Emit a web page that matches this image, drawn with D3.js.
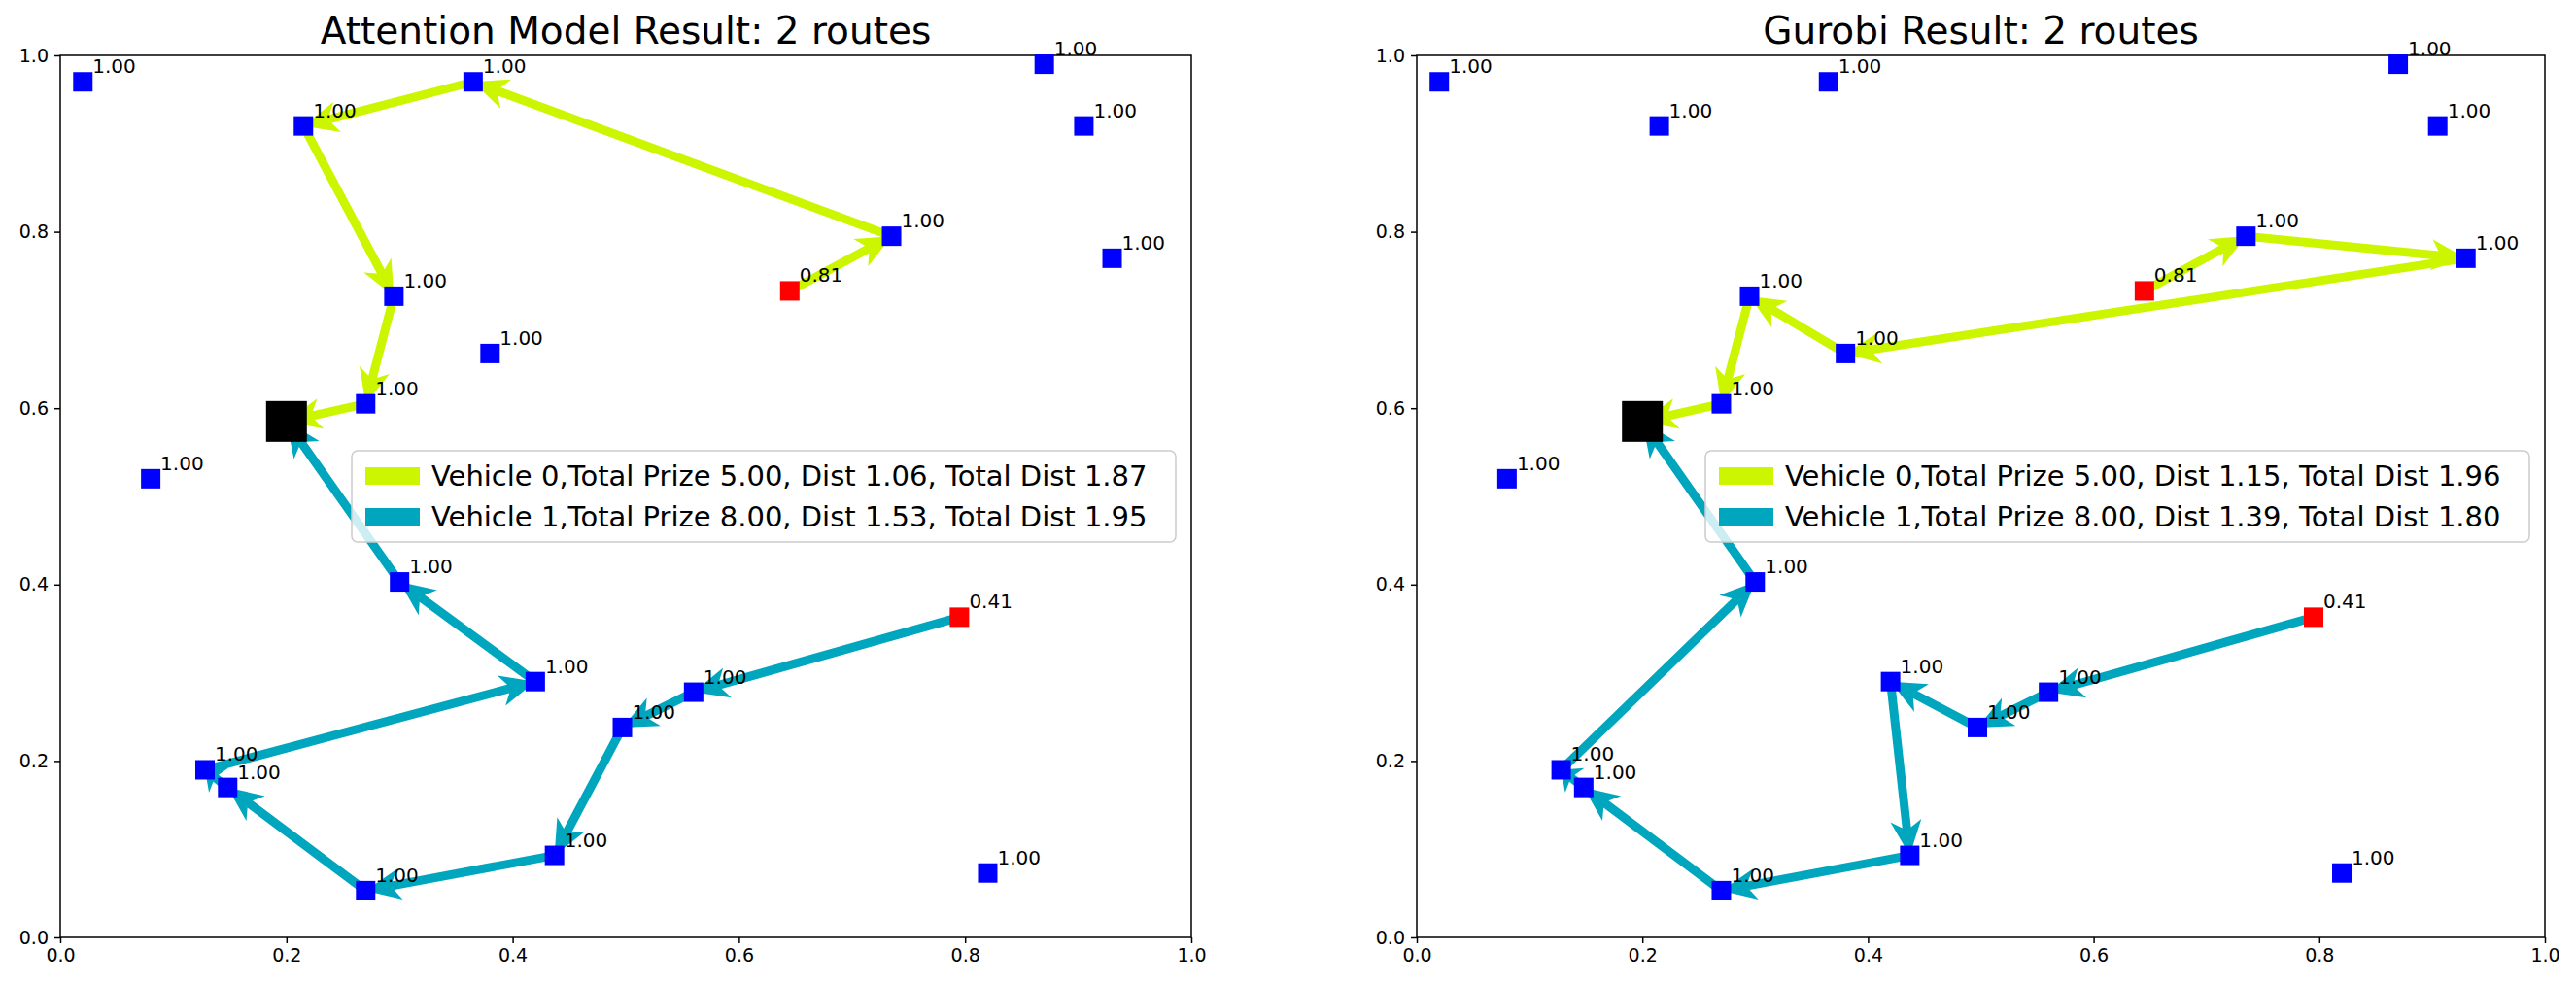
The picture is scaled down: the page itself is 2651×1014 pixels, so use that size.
<!DOCTYPE html>
<html><head><meta charset="utf-8">
<script src="https://cdn.jsdelivr.net/npm/d3@7"></script>
<style>body{margin:0;background:#fff}text{font-family:"DejaVu Sans",sans-serif}</style>
</head><body><svg id="c" width="2651" height="1014"></svg>
<script>
// node positions (shared by both panels)
const nodes = [
  {id:"A", x:0.02, y:0.97, p:1.00}, {id:"B", x:0.215, y:0.92, p:1.00},
  {id:"C", x:0.365, y:0.97, p:1.00}, {id:"D", x:0.87, y:0.99, p:1.00},
  {id:"E", x:0.905, y:0.92, p:1.00}, {id:"F", x:0.93, y:0.77, p:1.00},
  {id:"G", x:0.735, y:0.795, p:1.00}, {id:"H", x:0.645, y:0.733, p:0.81},
  {id:"I", x:0.295, y:0.727, p:1.00}, {id:"J", x:0.38, y:0.662, p:1.00},
  {id:"K", x:0.27, y:0.605, p:1.00}, {id:"L", x:0.08, y:0.52, p:1.00},
  {id:"M", x:0.30, y:0.403, p:1.00}, {id:"N", x:0.795, y:0.363, p:0.41},
  {id:"O", x:0.56, y:0.278, p:1.00}, {id:"P", x:0.42, y:0.29, p:1.00},
  {id:"Q", x:0.497, y:0.238, p:1.00}, {id:"R", x:0.128, y:0.19, p:1.00},
  {id:"S", x:0.148, y:0.17, p:1.00}, {id:"T", x:0.27, y:0.053, p:1.00},
  {id:"U", x:0.437, y:0.093, p:1.00}, {id:"V", x:0.82, y:0.073, p:1.00}
];
const depot = {id:"depot", x:0.2, y:0.585};
const ticks = [0, 0.2, 0.4, 0.6, 0.8, 1.0];
const colors = ["#ccf600", "#00a6bd"];

const amRoutes = [
  ["H","G","C","B","I","K","depot"],
  ["N","O","Q","U","T","S","R","P","M","depot"]
];
const amLegend = ["Vehicle 0,Total Prize 5.00, Dist 1.06, Total Dist 1.87",
                  "Vehicle 1,Total Prize 8.00, Dist 1.53, Total Dist 1.95"];
const grRoutes = [
  ["H","G","F","J","I","K","depot"],
  ["N","O","Q","P","U","T","S","R","M","depot"]
];
const grLegend = ["Vehicle 0,Total Prize 5.00, Dist 1.15, Total Dist 1.96",
                  "Vehicle 1,Total Prize 8.00, Dist 1.39, Total Dist 1.80"];

const byId = {depot};
nodes.forEach(n => byId[n.id] = n);
const svg = d3.select("#c");

function panel(x0, x1, title, routes, legend) {
  const y0 = 57, y1 = 965;
  const x = d3.scaleLinear().domain([0,1]).range([x0,x1]);
  const y = d3.scaleLinear().domain([0,1]).range([y1,y0]);
  const g = svg.append("g");
  g.append("text").attr("x",(x0+x1)/2).attr("y",45).attr("text-anchor","middle")
    .attr("font-size",39).text(title);

  const xa = g.append("g").attr("transform",`translate(0,${y1})`)
    .call(d3.axisBottom(x).tickValues(ticks).tickFormat(d3.format(".1f")).tickSize(6).tickPadding(6));
  const ya = g.append("g").attr("transform",`translate(${x0},0)`)
    .call(d3.axisLeft(y).tickValues(ticks).tickFormat(d3.format(".1f")).tickSize(6).tickPadding(6));
  [xa,ya].forEach(a=>{a.select(".domain").remove();a.selectAll("text").attr("font-size",19).attr("font-family","DejaVu Sans");a.selectAll("line").attr("stroke-width",1.5);});
  g.append("rect").attr("x",x0).attr("y",y0).attr("width",x1-x0).attr("height",y1-y0)
    .attr("fill","none").attr("stroke","#000").attr("stroke-width",1.5);

  // routes as arrows
  routes.forEach((r,vi)=>{
    for (let i=0;i<r.length-1;i++){
      const a=byId[r[i]], b=byId[r[i+1]];
      const ax=x(a.x), ay=y(a.y), bx=x(b.x), by=y(b.y);
      const ang=Math.atan2(by-ay,bx-ax), L=Math.hypot(bx-ax,by-ay);
      const hl=Math.min(36,L*0.6), hw=16, sw=4.5;
      const pts=[[0,-sw],[L-hl*0.8,-sw],[L-hl,-hw],[L,0],[L-hl,hw],[L-hl*0.8,sw],[0,sw]];
      g.append("path").attr("d","M"+pts.map(p=>p.join(",")).join("L")+"Z")
        .attr("fill",colors[vi])
        .attr("transform",`translate(${ax},${ay}) rotate(${ang*180/Math.PI})`);
    }
  });

  g.selectAll(".n").data(nodes).join("rect")
    .attr("x",d=>x(d.x)-10).attr("y",d=>y(d.y)-10).attr("width",20).attr("height",20)
    .attr("fill",d=>d.p<1?"#ff0000":"#0000ff");
  g.selectAll(".l").data(nodes).join("text")
    .attr("x",d=>x(d.x)+10).attr("y",d=>y(d.y)-9).attr("font-size",20)
    .text(d=>d.p.toFixed(2));
  g.append("rect").attr("x",x(depot.x)-21).attr("y",y(depot.y)-21).attr("width",42).attr("height",42).attr("fill","#000");

  // legend
  const lw=848, lh=94, lx=x1-lw-16, ly=464;
  g.append("rect").attr("x",lx).attr("y",ly).attr("width",lw).attr("height",lh).attr("rx",6)
    .attr("fill","#fff").attr("fill-opacity",0.8).attr("stroke","#ccc").attr("stroke-width",1.5);
  legend.forEach((t,i)=>{
    const yy=ly+26+i*42;
    g.append("rect").attr("x",lx+14).attr("y",yy-9).attr("width",56).attr("height",18).attr("fill",colors[i]);
    g.append("text").attr("x",lx+82).attr("y",yy+10).attr("font-size",29).text(t);
  });
}

panel(62, 1226, "Attention Model Result: 2 routes", amRoutes, amLegend);
panel(1458, 2619, "Gurobi Result: 2 routes", grRoutes, grLegend);
</script></body></html>
